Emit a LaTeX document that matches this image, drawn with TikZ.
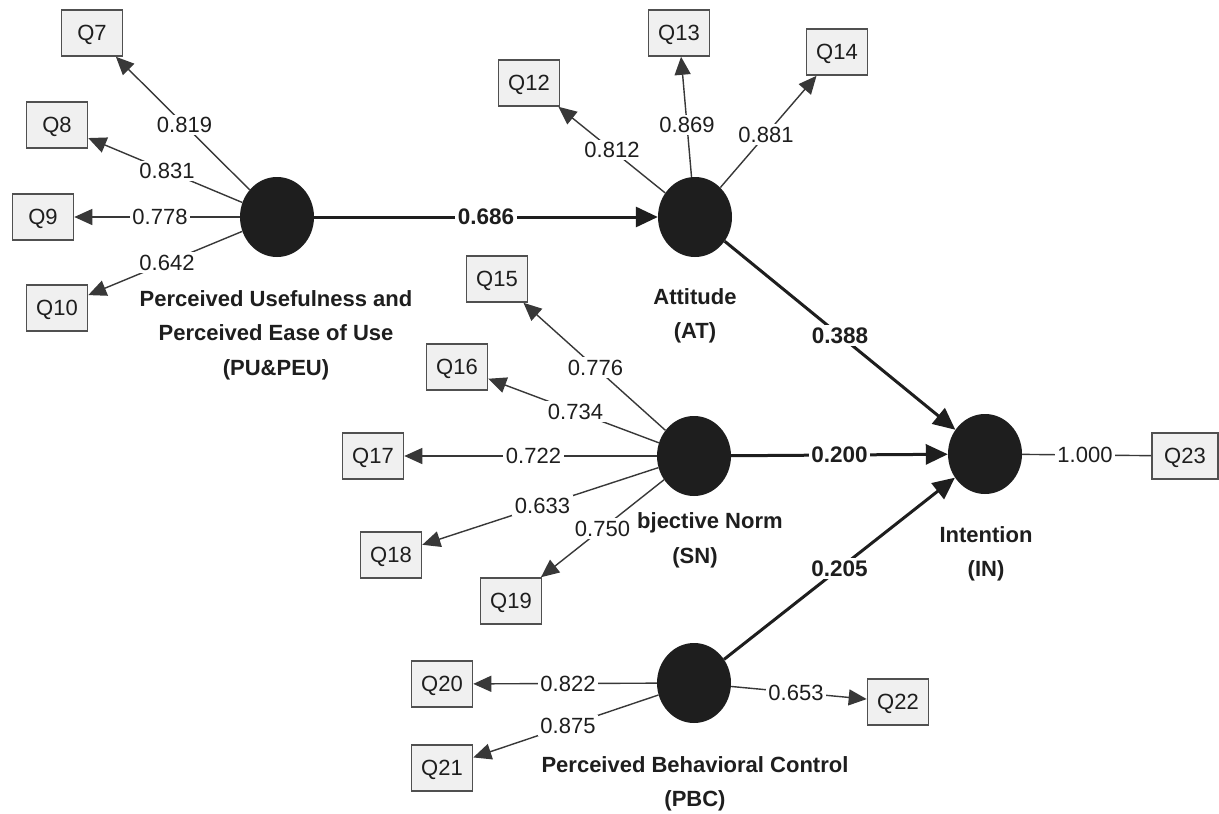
\documentclass[tikz,border=0pt]{standalone}
\usepackage{fontspec}
\setmainfont{Liberation Sans}
\usetikzlibrary{arrows.meta,calc,shapes.geometric}
\definecolor{boxfill}{HTML}{F0F0F0}
\definecolor{boxdraw}{HTML}{505050}
\definecolor{ink}{HTML}{1E1E1E}
\definecolor{lineC}{HTML}{383838}
\begin{document}
\begin{tikzpicture}[x=1pt,y=-1pt,
  latent/.style={ellipse,fill=ink,draw=none,minimum width=74pt,minimum height=80pt,inner sep=0pt},
  ind/.style={draw=boxdraw,line width=1.6pt,fill=boxfill,minimum width=61pt,minimum height=46pt,inner sep=0pt,text height=15.8pt,text depth=0pt,font=\fontsize{22}{24}\selectfont,text=ink},
  ld/.style={draw=lineC,line width=1.4pt,-{Triangle[length=18pt,width=16pt]}},
  ldplain/.style={draw=lineC,line width=1.4pt},
  struct/.style={draw=ink,line width=3pt,-{Triangle[length=22pt,width=20pt]}},
  lbl/.style={fill=white,inner sep=2.5pt,font=\fontsize{22}{24}\selectfont,text=ink},
  blbl/.style={fill=white,inner sep=2.5pt,font=\bfseries\fontsize{22.5}{24}\selectfont,text=ink},
  latlbl/.style={align=center,inner sep=0pt,font=\bfseries\fontsize{22}{34.5}\selectfont,text=ink}
]
\useasboundingbox[fill=white] (0,0) rectangle (1219,814);

% latent variables
\node[latent] (PU) at (277,217) {};
\node[latent] (AT) at (695,217) {};
\node[latent] (SN) at (694,456) {};
\node[latent] (IN) at (985,454) {};
\node[latent] (PBC) at (694,683) {};

% indicators
\node[ind] (Q7) at (92,33) {Q7};
\node[ind] (Q8) at (57,125) {Q8};
\node[ind] (Q9) at (43,217) {Q9};
\node[ind] (Q10) at (57,308) {Q10};
\node[ind] (Q12) at (529,83) {Q12};
\node[ind] (Q13) at (679,33) {Q13};
\node[ind] (Q14) at (837,52) {Q14};
\node[ind] (Q15) at (497,279) {Q15};
\node[ind] (Q16) at (457,367) {Q16};
\node[ind] (Q17) at (373,456) {Q17};
\node[ind] (Q18) at (391,555) {Q18};
\node[ind] (Q19) at (511,601) {Q19};
\node[ind] (Q20) at (442,684) {Q20};
\node[ind] (Q21) at (442,768) {Q21};
\node[ind] (Q22) at (898,702) {Q22};
\node[ind,minimum width=66pt] (Q23) at (1185,456) {Q23};

% latent labels
\node[latlbl] (PUl) at (276,335) {Perceived Usefulness and\\Perceived Ease of Use\\(PU\&PEU)};
\node[latlbl] (ATl) at (695,316) {Attitude\\(AT)};
\node[latlbl,anchor=base west] (SNl) at (637,528) {bjective Norm};
\node[latlbl,anchor=base] (SNl2) at (695,563) {(SN)};
\node[latlbl] (INl) at (986,554) {Intention\\(IN)};
\node[latlbl] (PBCl) at (695,784) {Perceived Behavioral Control\\(PBC)};

% connectors
\foreach \a/\b in {PU/Q7,PU/Q8,PU/Q9,PU/Q10,AT/Q12,AT/Q13,AT/Q14,SN/Q15,SN/Q16,SN/Q17,SN/Q18,SN/Q19,PBC/Q20,PBC/Q21,PBC/Q22}
  \draw[ld] (\a) -- (\b);
\draw[ldplain] (IN) -- (Q23);
\draw[struct] (PU) -- (AT);
\draw[struct] (AT) -- (IN);
\draw[struct] (SN) -- (IN);
\draw[struct] (PBC) -- (IN);

% labels
\foreach \a/\b/\v in {PU/Q7/0.819,PU/Q8/0.831,PU/Q9/0.778,PU/Q10/0.642,AT/Q12/0.812,AT/Q13/0.869,AT/Q14/0.881,SN/Q15/0.776,SN/Q16/0.734,SN/Q17/0.722,SN/Q18/0.633,SN/Q19/0.750,PBC/Q20/0.822,PBC/Q21/0.875,PBC/Q22/0.653,IN/Q23/1.000}
  \node[lbl] (L\b) at ($(\a)!0.5!(\b)$) {\v};
\node[blbl] (Lpuat) at ($(PU)!0.5!(AT)$) {0.686};
\node[blbl] (Latin) at ($(AT)!0.5!(IN)$) {0.388};
\node[blbl] (Lsnin) at ($(SN)!0.5!(IN)$) {0.200};
\node[blbl] (Lpbcin) at ($(PBC)!0.5!(IN)$) {0.205};
\end{tikzpicture}
\end{document}
